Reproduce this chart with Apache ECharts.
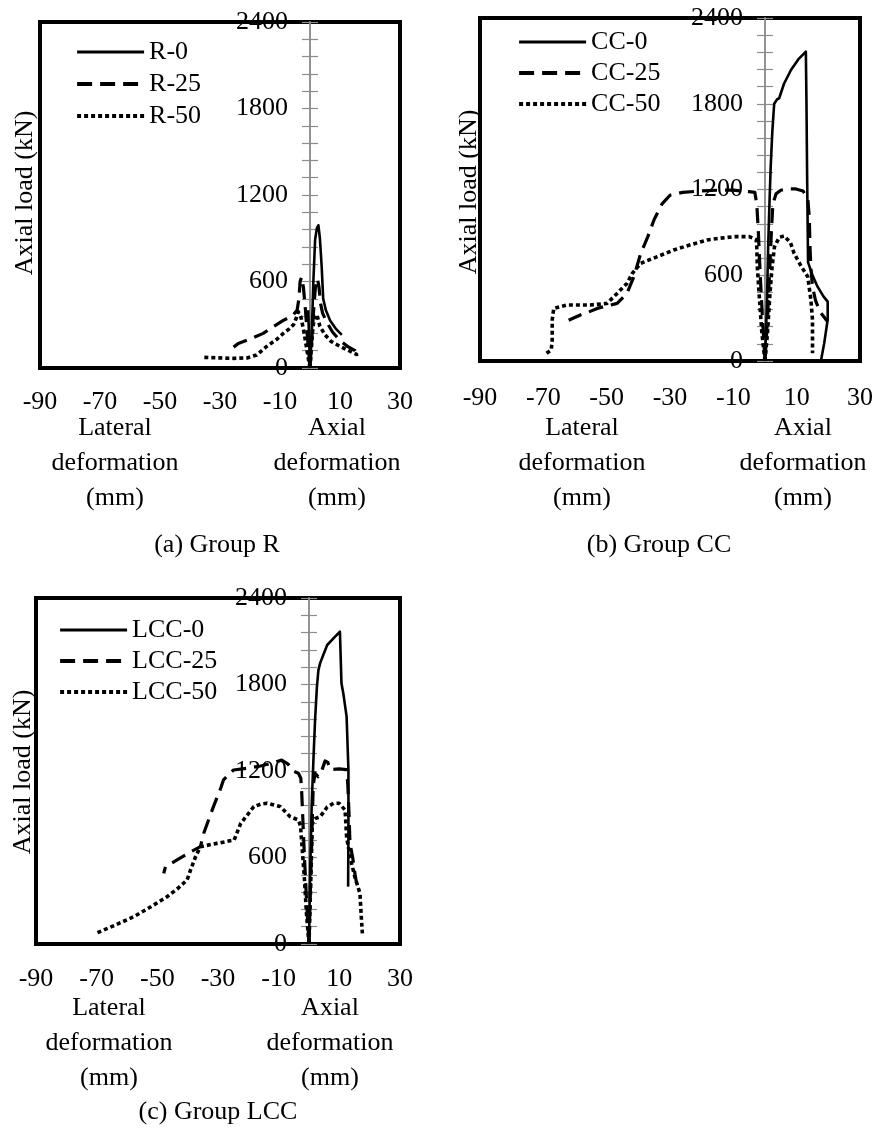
<!DOCTYPE html>
<html><head><meta charset="utf-8">
<script src="https://cdn.jsdelivr.net/npm/echarts@6/dist/echarts.min.js"></script>
<style>html,body{margin:0;padding:0;background:#fff}#c{width:874px;height:1133px}</style>
</head><body><div id="c"></div>
<script>
// ---- axis settings (values) ----
const xMin = -90, xMax = 30, xStep = 20;
const yMin = 0, yMax = 2400, yStep = 600;

// ---- Group R ----
const R0_lat  = [[0,0],[-0.3,200],[-0.6,400]];
const R0_ax   = [[0,0],[0.6,240],[1.1,590],[1.7,890],[2.3,970],[2.8,990],[3.3,900],[3.9,700],[4.4,480],[5.3,400],[6.7,330],[8.5,275],[10.6,230]];
const R25_lat = [[0,0],[-0.8,200],[-1.5,400],[-2.2,560],[-2.8,630],[-3.3,600],[-3.7,480],[-4.3,400],[-6,360],[-8.9,330],[-12,290],[-15.6,240],[-20,200],[-23.9,170],[-26.7,125],[-27,105]];
const R25_ax  = [[0,0],[0.6,200],[1.2,400],[1.8,560],[2.5,620],[3,560],[3.5,450],[4.2,380],[5.5,320],[7.5,250],[10,190],[12.5,150],[15,120],[15.6,100]];
const R50_lat = [[0,0],[-1,120],[-2,250],[-3,350],[-3.9,390],[-4.5,350],[-5.5,300],[-7,270],[-8.9,240],[-11,200],[-14.4,150],[-17.8,90],[-21,70],[-25.6,67],[-30,70],[-35.6,74]];
const R50_ax  = [[0,0],[0.5,150],[1,290],[1.6,360],[2.3,370],[3.3,290],[5,230],[7,185],[10,150],[13,120],[15.5,95],[15.6,70]];

// ---- Group CC ----
const CC0_ax   = [[0,0],[0.6,400],[1.0,800],[1.4,1100],[1.8,1360],[2.3,1600],[2.9,1800],[3.8,1830],[4.5,1840],[6,1940],[8.2,2036],[10.5,2110],[12.9,2165],[13.1,1800],[13.3,1300],[13.6,690],[15,600],[16.6,520],[18.5,450],[19.8,415],[19.8,290],[18.7,125],[17.7,5]];
const CC25_lat = [[0,0],[-0.8,300],[-1.5,600],[-2.1,900],[-2.6,1100],[-3.0,1150],[-3.2,1180],[-5,1185],[-10,1195],[-15,1195],[-20,1190],[-26,1180],[-30,1160],[-32.5,1100],[-35,990],[-37,870],[-39.3,750],[-41.4,590],[-43.6,473],[-46.7,403],[-50,385],[-53,368],[-56,340],[-58.3,322],[-61.5,290],[-62,285]];
const CC25_ax  = [[0,0],[0.8,300],[1.4,600],[2,900],[2.5,1100],[3.5,1170],[5,1195],[7,1205],[9.5,1205],[12,1190],[13.5,1140],[14,1000],[14.2,800],[14.5,650],[15,520],[16,420],[17.5,340],[19.8,275]];
const CC50_lat = [[0,0],[-1,200],[-1.8,450],[-2.4,650],[-2.6,800],[-2.8,850],[-5,870],[-9.8,870],[-14,860],[-18.2,847],[-24,810],[-28.8,777],[-34,730],[-39.3,683],[-41.9,613],[-43.6,543],[-46.7,473],[-49.9,403],[-55.2,392],[-62.5,392],[-66.7,368],[-67.2,287],[-67.2,150],[-67.5,77],[-69,54]];
const CC50_ax  = [[0,0],[0.8,200],[1.5,450],[2.2,650],[3,800],[4.5,865],[6,875],[8,830],[9.2,753],[11.5,660],[13.5,590],[14.5,427],[15,287],[15,150],[15,54]];

// ---- Group LCC ----
const LCC0_ax   = [[0,0],[0.4,500],[0.9,975],[1.5,1300],[2.0,1554],[2.6,1780],[3.1,1900],[3.7,1950],[4.8,2010],[6,2074],[8.6,2132],[10.2,2166],[10.7,1808],[11.3,1740],[12.4,1577],[13.0,1207],[13.0,800],[12.9,398]];
const LCC25_lat = [[0,0],[-0.8,300],[-1.5,600],[-2,850],[-2.4,1050],[-2.7,1150],[-3.5,1185],[-5.2,1200],[-7,1250],[-9,1276],[-12,1255],[-16,1235],[-20,1220],[-24.9,1207],[-28.2,1138],[-29.3,1069],[-31.5,953],[-33.3,850],[-34.7,768],[-35.8,675],[-38.9,640],[-43.5,583],[-47.3,536],[-47.9,490]];
const LCC25_ax  = [[0,0],[0.5,400],[1,800],[1.4,1100],[2,1185],[3,1160],[4,1190],[5.3,1270],[6.2,1260],[7,1210],[9.9,1215],[12.4,1210],[12.8,1100],[13.2,900],[13.5,700],[14.4,600],[15.2,480],[15.7,420]];
const LCC50_lat = [[0,0],[-0.8,200],[-1.5,450],[-2.2,650],[-2.8,820],[-3.5,860],[-6.2,883],[-9.5,953],[-13.8,976],[-16,970],[-18.2,953],[-20.5,890],[-22.5,837],[-24.7,721],[-30.4,698],[-35.8,675],[-37.5,600],[-39.1,510],[-40.2,444],[-43,390],[-46.8,328],[-52,260],[-57.8,189],[-64,130],[-70.3,74]];
const LCC50_ax  = [[0,0],[0.4,300],[0.8,600],[1.1,839],[2,870],[3.7,883],[6,950],[8.1,976],[9.9,976],[11.9,929],[12.4,744],[13.5,606],[15.1,467],[16.8,351],[17.3,166],[17.6,74]];

const namesR   = ['R-0','R-25','R-50'];
const namesCC  = ['CC-0','CC-25','CC-50'];
const namesLCC = ['LCC-0','LCC-25','LCC-50'];
const captions = ['(a) Group R','(b) Group CC','(c) Group LCC'];

// ---- styles / layout ----
const FONT = '"Liberation Serif","Times New Roman",serif';
const styles = [
  {type:'solid', width:2.6},
  {type:[15,8], width:3.2},
  {type:[4,3], width:3.6}
];
const grids = [
  {left:40, top:22, width:360, height:346},
  {left:480, top:18, width:380, height:343},
  {left:36, top:598, width:364, height:346}
];
const labelMargins = [21, 24, 22];
// pixel distance of the x=0 line from the grid's left / right edge
function zeroOffsets(g) {
  const fromLeft = g.width * (0 - xMin) / (xMax - xMin);
  return {left: -fromLeft, right: -(g.width - fromLeft)};
}

const option = {
  animation:false,
  backgroundColor:'#fff',
  grid: grids.map(g => Object.assign({show:true, borderColor:'#000', borderWidth:4, backgroundColor:'transparent', containLabel:false, outerBoundsMode:'none'}, g)),
  xAxis: grids.map((g,i) => ({
    type:'value', gridIndex:i, min:xMin, max:xMax, interval:xStep, position:'bottom',
    axisLine:{show:false, onZero:false}, axisTick:{show:false}, splitLine:{show:false},
    axisLabel:{fontFamily:FONT, fontSize:26, color:'#000', margin:labelMargins[i], formatter: v => String(v)}
  })),
  yAxis: [],
  legend: [],
  series: [],
  graphic: []
};

grids.forEach((g,i) => {
  const off = zeroOffsets(g);
  const mk = () => ({
    type:'value', gridIndex:i, min:yMin, max:yMax, interval:yStep,
    splitLine:{show:false},
    axisLine:{show:true, onZero:false, lineStyle:{color:'#8c8c8c', width:1.5}},
    axisTick:{show:true, length:8, lineStyle:{color:'#8c8c8c', width:1.2}},
    minorTick:{show:true, splitNumber:5, length:8, lineStyle:{color:'#8c8c8c', width:1.2}},
    minorSplitLine:{show:false}
  });
  option.yAxis.push(Object.assign(mk(), {
    position:'left', offset: off.left,
    axisLabel:{fontFamily:FONT, fontSize:26, color:'#000', margin:22, formatter: v => String(v)}
  }));
  option.yAxis.push(Object.assign(mk(), {
    position:'right', offset: off.right, axisLabel:{show:false}
  }));
});

function addSeries(name, data, gi, si) {
  option.series.push({
    name, type:'line', xAxisIndex:gi, yAxisIndex:gi*2, data,
    symbol:'none', smooth:false, clip:false, z:3,
    lineStyle:{color:'#000', width:styles[si].width, type:styles[si].type, cap:'butt', join:'round'}
  });
}
addSeries('R-0', R0_ax, 0, 0);  addSeries('R-0', R0_lat, 0, 0);
addSeries('R-25', R25_ax, 0, 1); addSeries('R-25', R25_lat, 0, 1);
addSeries('R-50', R50_ax, 0, 2); addSeries('R-50', R50_lat, 0, 2);
addSeries('CC-0', CC0_ax, 1, 0);
addSeries('CC-25', CC25_ax, 1, 1); addSeries('CC-25', CC25_lat, 1, 1);
addSeries('CC-50', CC50_ax, 1, 2); addSeries('CC-50', CC50_lat, 1, 2);
addSeries('LCC-0', LCC0_ax, 2, 0);
addSeries('LCC-25', LCC25_ax, 2, 1); addSeries('LCC-25', LCC25_lat, 2, 1);
addSeries('LCC-50', LCC50_ax, 2, 2); addSeries('LCC-50', LCC50_lat, 2, 2);

const legendPos = [
  {left:75, top:39, gap:6},
  {left:517, top:29, gap:5},
  {left:58, top:617, gap:5}
];
[namesR, namesCC, namesLCC].forEach((names, i) => {
  option.legend.push({
    orient:'vertical', left:legendPos[i].left, top:legendPos[i].top, padding:0,
    itemWidth:67, itemHeight:14, itemGap:legendPos[i].gap, selectedMode:false,
    itemStyle:{opacity:0},
    textStyle:{fontFamily:FONT, fontSize:26, color:'#000', padding:[0,0,0,0]},
    data: names.map((n, k) => ({name:n, lineStyle:{width:styles[k].width + 0.6, type:styles[k].type, color:'#000'}}))
  });
});

function txt(text, x, y, rot) {
  return {type:'text', x, y, rotation:rot||0, z:10, silent:true,
    style:{text, font:'26px ' + FONT, fill:'#000', align:'center', verticalAlign:'middle', lineHeight:35}};
}
const yTitle = 'Axial load (kN)';
const latTitle = 'Lateral\ndeformation\n(mm)';
const axTitle = 'Axial\ndeformation\n(mm)';
option.graphic = [
  txt(yTitle, 25, 193, Math.PI/2),
  txt(yTitle, 469, 192, Math.PI/2),
  txt(yTitle, 23, 772, Math.PI/2),
  txt(latTitle, 115, 463), txt(axTitle, 337, 463),
  txt(latTitle, 582, 463), txt(axTitle, 803, 463),
  txt(latTitle, 109, 1043), txt(axTitle, 330, 1043),
  txt(captions[0], 217, 545), txt(captions[1], 659, 545), txt(captions[2], 218, 1112)
];

const chart = echarts.init(document.getElementById('c'), null, {renderer:'canvas'});
chart.setOption(option);
</script>
</body></html>
